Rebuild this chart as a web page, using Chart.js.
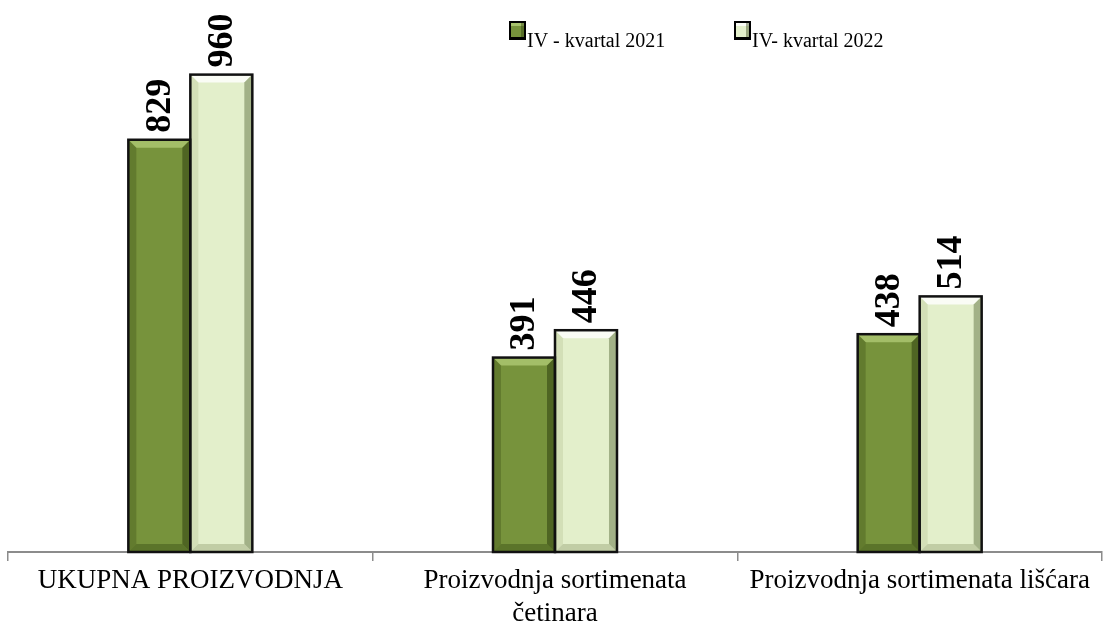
<!DOCTYPE html>
<html>
<head>
<meta charset="utf-8">
<script src="https://cdn.jsdelivr.net/npm/chart.js@4"></script>
<style>
  html, body { margin: 0; padding: 0; background: #fff; }
  #wrap { width: 1105px; height: 630px; }
</style>
</head>
<body>
<div id="wrap"><canvas id="chart"></canvas></div>
<script>
// Data
const categories = [
  'UKUPNA PROIZVODNJA',
  ['Proizvodnja sortimenata', 'četinara'],
  'Proizvodnja sortimenata lišćara'
];
const seriesNames = ['IV - kvartal 2021', 'IV- kvartal 2022'];
const values2021 = [829, 391, 438];
const values2022 = [960, 446, 514];

const fillColors = ['#77933c', '#e3efcb'];
const FONT = '"Liberation Serif", "DejaVu Serif", serif';

// bevel look on each bar
const bevelPlugin = {
  id: 'bevel',
  afterDatasetsDraw(chart) {
    const ctx = chart.ctx;
    chart.data.datasets.forEach((ds, i) => {
      const dark = i === 0;
      chart.getDatasetMeta(i).data.forEach(bar => {
        const l = bar.x - bar.width / 2, r = bar.x + bar.width / 2;
        const t = bar.y, b = bar.base;
        const e = 8;
        ctx.save();
        // top edge (light)
        ctx.fillStyle = dark ? 'rgba(200,225,140,0.55)' : 'rgba(255,255,255,0.8)';
        ctx.beginPath();
        ctx.moveTo(l, t); ctx.lineTo(r, t); ctx.lineTo(r - e, t + e); ctx.lineTo(l + e, t + e);
        ctx.closePath(); ctx.fill();
        // left edge
        ctx.fillStyle = dark ? 'rgba(60,80,20,0.35)' : 'rgba(190,205,160,0.45)';
        ctx.beginPath();
        ctx.moveTo(l, t); ctx.lineTo(l + e, t + e); ctx.lineTo(l + e, b - e); ctx.lineTo(l, b);
        ctx.closePath(); ctx.fill();
        // right edge (dark)
        ctx.fillStyle = dark ? 'rgba(40,55,10,0.5)' : 'rgba(110,125,80,0.55)';
        ctx.beginPath();
        ctx.moveTo(r, t); ctx.lineTo(r - e, t + e); ctx.lineTo(r - e, b - e); ctx.lineTo(r, b);
        ctx.closePath(); ctx.fill();
        // bottom edge
        ctx.fillStyle = dark ? 'rgba(50,70,15,0.4)' : 'rgba(150,165,120,0.45)';
        ctx.beginPath();
        ctx.moveTo(l, b); ctx.lineTo(l + e, b - e); ctx.lineTo(r - e, b - e); ctx.lineTo(r, b);
        ctx.closePath(); ctx.fill();
        // outline
        ctx.strokeStyle = '#111';
        ctx.lineWidth = 2.5;
        ctx.strokeRect(l, t, r - l, b - t);
        ctx.restore();
      });
    });
  }
};

// rotated value labels above bars
const valueLabels = {
  id: 'valueLabels',
  afterDatasetsDraw(chart) {
    const ctx = chart.ctx;
    chart.data.datasets.forEach((ds, i) => {
      chart.getDatasetMeta(i).data.forEach((bar, j) => {
        ctx.save();
        ctx.translate(bar.x, bar.y - 7);
        ctx.rotate(-Math.PI / 2);
        ctx.font = 'bold 36px ' + FONT;
        ctx.fillStyle = '#000';
        ctx.textAlign = 'left';
        ctx.textBaseline = 'middle';
        ctx.fillText(ds.data[j], 0, 1);
        ctx.restore();
      });
    });
  }
};

// legend drawn inside plot area, top right
const topLegend = {
  id: 'topLegend',
  afterDraw(chart) {
    const ctx = chart.ctx;
    const xs = [510, 735];
    chart.data.datasets.forEach((ds, i) => {
      const x = xs[i], y = 22;
      ctx.save();
      ctx.fillStyle = '#000';
      ctx.fillRect(x - 1, y - 1, 17, 19);
      ctx.fillStyle = fillColors[i];
      ctx.fillRect(x + 1, y + 1, 13, 14);
      ctx.fillStyle = i === 0 ? 'rgba(200,225,140,0.6)' : 'rgba(255,255,255,0.8)';
      ctx.fillRect(x + 1, y + 1, 13, 3);
      ctx.fillStyle = 'rgba(40,55,10,0.4)';
      ctx.fillRect(x + 11, y + 1, 3, 14);
      ctx.font = '20px ' + FONT;
      ctx.fillStyle = '#000';
      ctx.textBaseline = 'alphabetic';
      ctx.fillText(ds.label, x + 17, 47);
      ctx.restore();
    });
  }
};

new Chart(document.getElementById('chart'), {
  type: 'bar',
  data: {
    labels: categories,
    datasets: [
      { label: seriesNames[0], data: values2021, backgroundColor: fillColors[0] },
      { label: seriesNames[1], data: values2022, backgroundColor: fillColors[1] }
    ]
  },
  options: {
    responsive: true,
    maintainAspectRatio: false,
    animation: false,
    layout: { padding: { top: 5, left: 8, right: 3, bottom: 0 } },
    datasets: { bar: { categoryPercentage: 0.34, barPercentage: 1.0, borderWidth: 0 } },
    plugins: { legend: { display: false }, tooltip: { enabled: false } },
    scales: {
      y: { display: false, min: 0, max: 1100 },
      x: {
        afterFit: (scale) => { scale.height = 78; },
        border: { display: true, color: '#8c8c8c', width: 2 },
        grid: { drawOnChartArea: false, color: '#8c8c8c', lineWidth: 1.5, tickLength: 9, offset: true },
        ticks: { color: '#000', padding: 4, font: { family: FONT, size: 27 }, maxRotation: 0, autoSkip: false }
      }
    }
  },
  plugins: [bevelPlugin, valueLabels, topLegend]
});
</script>
</body>
</html>
